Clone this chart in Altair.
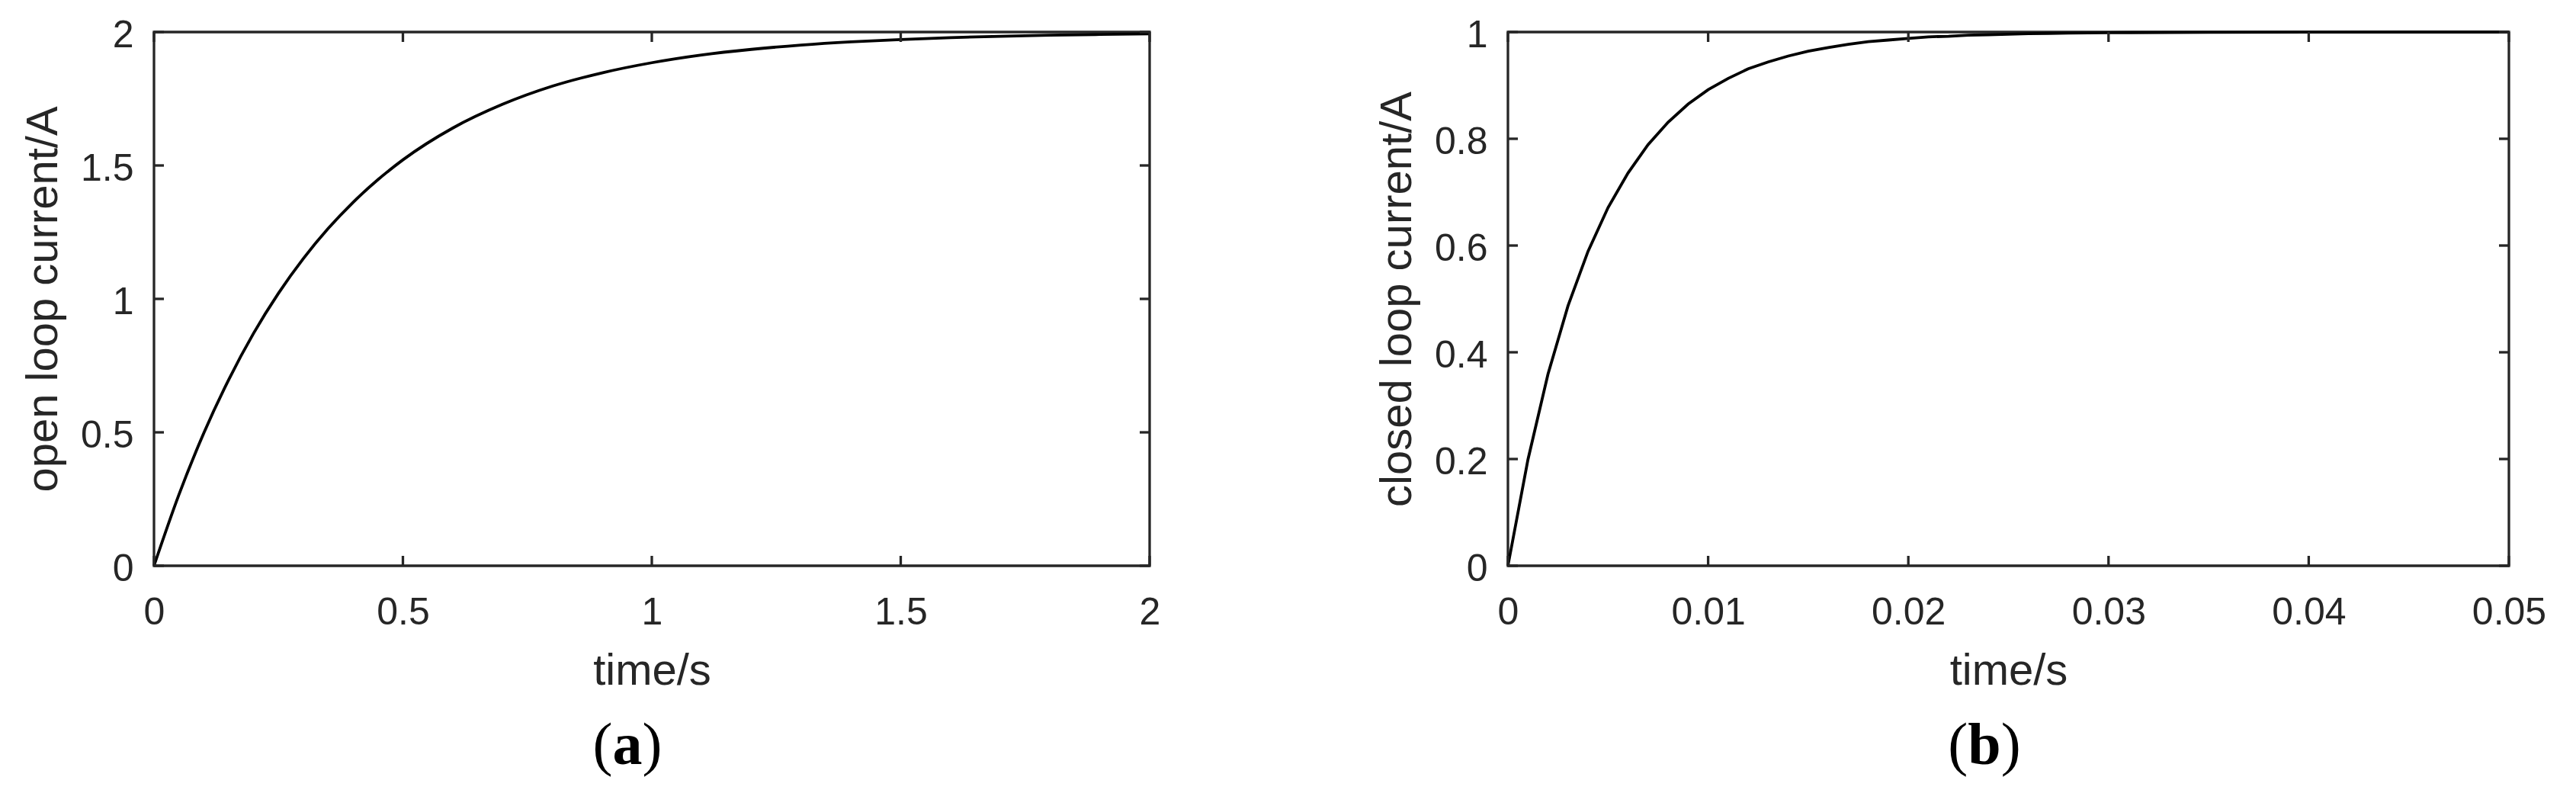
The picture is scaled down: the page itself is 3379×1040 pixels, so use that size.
import altair as alt
import pandas as pd

# ---------------- data ----------------
# (a) open loop current
t_open = [0.0, 0.05, 0.1, 0.15, 0.2, 0.25, 0.3, 0.35, 0.4, 0.45, 0.5,
          0.6, 0.7, 0.8, 0.9, 1.0, 1.1, 1.2, 1.3, 1.4, 1.5, 1.6, 1.7, 1.8, 1.9, 2.0]
i_open = [0.0, 0.266, 0.497, 0.697, 0.871, 1.021, 1.151, 1.264, 1.362, 1.447, 1.521,
          1.640, 1.729, 1.797, 1.847, 1.885, 1.914, 1.935, 1.951, 1.963, 1.972, 1.979,
          1.984, 1.988, 1.991, 1.993]

# (b) closed loop current
t_closed = [0.000, 0.001, 0.002, 0.003, 0.004, 0.005, 0.006, 0.007, 0.008, 0.009,
            0.010, 0.011, 0.012, 0.013, 0.014, 0.015, 0.016, 0.017, 0.018, 0.019,
            0.020, 0.021, 0.022, 0.023, 0.024, 0.025, 0.026, 0.027, 0.028, 0.029,
            0.030, 0.035, 0.040, 0.045, 0.050]
i_closed = [0.0, 0.199, 0.359, 0.487, 0.589, 0.671, 0.736, 0.789, 0.831, 0.865,
            0.892, 0.913, 0.931, 0.944, 0.955, 0.964, 0.971, 0.977, 0.982, 0.985,
            0.988, 0.991, 0.992, 0.994, 0.995, 0.996, 0.997, 0.9975, 0.998, 0.9984,
            0.9987, 0.9996, 0.9999, 1.0, 1.0]

xticks_open = [0, 0.5, 1, 1.5, 2]
yticks_open = [0, 0.5, 1, 1.5, 2]
xticks_closed = [0, 0.01, 0.02, 0.03, 0.04, 0.05]
yticks_closed = [0, 0.2, 0.4, 0.6, 0.8, 1]

x_title = "time/s"
y_title_open = "open loop current/A"
y_title_closed = "closed loop current/A"
caption_open = ["(", "a", ")"]
caption_closed = ["(", "b", ")"]

# ---------------- style ----------------
SANS = "Liberation Sans"
SERIF = "Liberation Serif"
AX = "#262626"
H = 700
TICK = 13
CAP_SIZE = 78
FRAME_W = 3.3


def panel(t, i, xt, yt, xdom, ydom, ytitle, W, caption, cap_cx, letter_w, interp):
    xs = alt.Scale(domain=xdom, nice=False, zero=False)
    ys = alt.Scale(domain=ydom, nice=False, zero=False)
    xaxis = alt.Axis(values=xt, format="~g", title=x_title, domain=False, ticks=False,
                     grid=False, labelPadding=36, titleY=155, titleBaseline="alphabetic",
                     labelFlush=False)
    yaxis = alt.Axis(values=yt, format="~g", title=ytitle, domain=False, ticks=False,
                     grid=False, labelPadding=27, titleX=-128, titleBaseline="alphabetic",
                     labelOffset=4, labelFlush=False)
    line = alt.Chart(pd.DataFrame({"t": t, "i": i})).mark_line(
        color="black", strokeWidth=3.8, interpolate=interp
    ).encode(x=alt.X("t:Q", scale=xs, axis=xaxis), y=alt.Y("i:Q", scale=ys, axis=yaxis))

    xdf = pd.DataFrame({"t": xt})
    ydf = pd.DataFrame({"i": yt})
    rule = dict(color=AX, strokeWidth=FRAME_W)
    bot = alt.Chart(xdf).mark_rule(**rule).encode(
        x=alt.X("t:Q", scale=xs, axis=xaxis), y=alt.value(H), y2=alt.value(H - TICK))
    top = alt.Chart(xdf).mark_rule(**rule).encode(
        x=alt.X("t:Q", scale=xs, axis=xaxis), y=alt.value(0), y2=alt.value(TICK))
    lft = alt.Chart(ydf).mark_rule(**rule).encode(
        y=alt.Y("i:Q", scale=ys, axis=yaxis), x=alt.value(0), x2=alt.value(TICK))
    rgt = alt.Chart(ydf).mark_rule(**rule).encode(
        y=alt.Y("i:Q", scale=ys, axis=yaxis), x=alt.value(W), x2=alt.value(W - TICK))

    cap_y = 960
    c0 = alt.Chart(pd.DataFrame({"s": [caption[0]]})).mark_text(
        font=SERIF, fontSize=CAP_SIZE, align="right", baseline="alphabetic", color="black"
    ).encode(x=alt.value(cap_cx - letter_w / 2), y=alt.value(cap_y), text="s:N")
    c1 = alt.Chart(pd.DataFrame({"s": [caption[1]]})).mark_text(
        font=SERIF, fontSize=CAP_SIZE, fontWeight="bold", align="center",
        baseline="alphabetic", color="black"
    ).encode(x=alt.value(cap_cx), y=alt.value(cap_y), text="s:N")
    c2 = alt.Chart(pd.DataFrame({"s": [caption[2]]})).mark_text(
        font=SERIF, fontSize=CAP_SIZE, align="left", baseline="alphabetic", color="black"
    ).encode(x=alt.value(cap_cx + letter_w / 2), y=alt.value(cap_y), text="s:N")

    return alt.layer(line, bot, top, lft, rgt, c0, c1, c2).properties(width=W, height=H)


left = panel(t_open, i_open, xticks_open, yticks_open, [0, 2], [0, 2], y_title_open,
             1306, caption_open, 621, 0.5 * CAP_SIZE, "monotone")
right = panel(t_closed, i_closed, xticks_closed, yticks_closed, [0, 0.05], [0, 1],
              y_title_closed, 1313, caption_closed, 625, 0.556 * CAP_SIZE, "linear")

chart = alt.hconcat(left, right, spacing=470, bounds="flush").properties(
    padding={"left": 18, "top": 11, "right": 10, "bottom": 5},
    background="white",
).configure_view(
    stroke=AX, strokeWidth=FRAME_W
).configure_axis(
    labelFont=SANS, titleFont=SANS, labelFontSize=50, titleFontSize=58,
    labelColor=AX, titleColor=AX, titleFontWeight="normal"
)

chart.save("out.html", embed_options={"renderer": "svg", "actions": False})
